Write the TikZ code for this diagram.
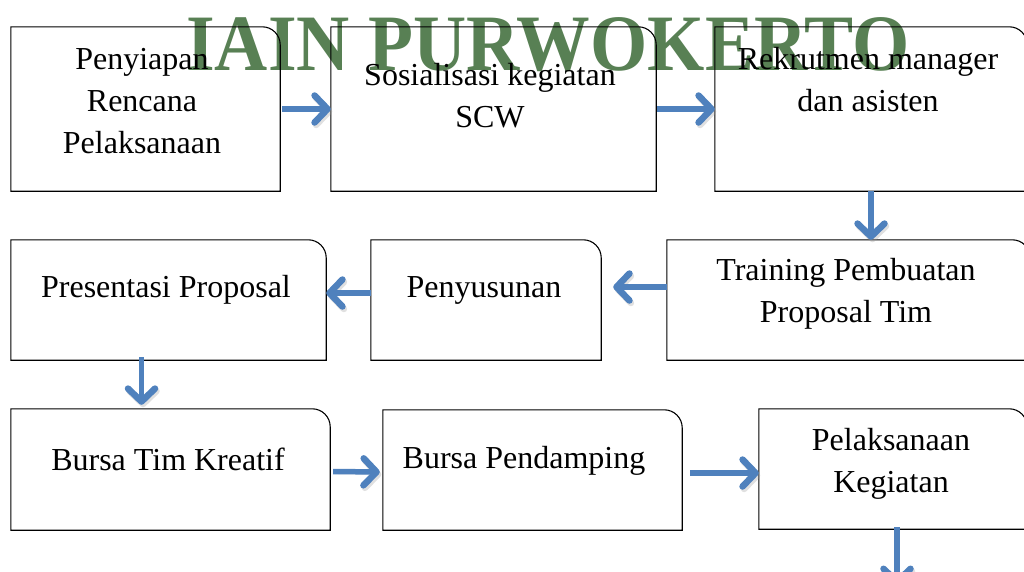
\documentclass[tikz,border=0pt]{standalone}
\usepackage{fontspec}
\setmainfont{Liberation Serif}
\usepackage{graphicx}
\usetikzlibrary{calc,arrows.meta}

\definecolor{flowblue}{RGB}{79,129,189}
\definecolor{markgreen}{RGB}{88,128,84}

\tikzset{
    flowarrow/.style={draw=flowblue, line width=5.5pt,
        -{Straight Barb[length=13pt,width=27pt,line width=6.5pt,round]},
        preaction={draw=black!40, opacity=0.3,
            transform canvas={shift={(1.5pt,-2.5pt)}}}},
    boxarea/.style={rectangle, inner sep=0pt, draw=none},
    boxtext/.style={align=center, inner sep=0pt,
        font=\fontsize{32}{42}\selectfont},
}

\begin{document}
\begin{tikzpicture}[x=1pt,y=-1pt]

% Page size, like the scan.
\useasboundingbox (0,0) rectangle (1024,571);

% Watermark across the top row.
\node[anchor=base, text=markgreen,
      font=\fontsize{80}{80}\selectfont\bfseries]
    (mark) at (548,70) {\scalebox{0.92}[1]{IAIN PURWOKERTO}};

% Loop for each step box.
\foreach \n/\xa/\ya/\xb/\yb/\tx/\ty/\txt in {
    b1/11/27/280/191/142/101/{Penyiapan\\Rencana\\Pelaksanaan},
    b2/331/27/656/191/490/96/{Sosialisasi kegiatan\\SCW},
    b3/715/27/1027/191/868/80/{Rekrutmen manager\\dan asisten},
    b4/667/240/1030/360/846/294/{Training Pembuatan\\Proposal Tim},
    b5/371/240/601/360/484/290/{Penyusunan},
    b6/11/240/326/360/166/290/{Presentasi Proposal},
    b7/11/409/330/530/168/459/{Bursa Tim Kreatif},
    b8/383/410/682/530/524/461/{Bursa Pendamping},
    b9/759/409/1027/529/891/464/{Pelaksanaan\\Kegiatan}} {

    % Empty node that carries the box name.
    \node[boxarea, minimum width={(\xb-\xa)*1pt},
          minimum height={(\yb-\ya)*1pt}]
        (\n) at ({(\xa+\xb)/2},{(\ya+\yb)/2}) {};

    % Outline, only the top right corner is round.
    \draw[line width=1.1pt]
        (\n.south west) -- (\n.north west)
        -- ([xshift=-18pt]\n.north east) arc(-90:0:18)
        -- (\n.south east) -- cycle;

    % Label of the step.
    \node[boxtext] (\n text) at (\tx,\ty) {\txt};
}

% Top row, left to right.
\draw[flowarrow] ([xshift=2pt]b1.east) -- (b2.west);
\draw[flowarrow] ([xshift=1pt]b2.east) -- (b3.west);

% Down to the second row.
\draw[flowarrow] (b3.south) -- (b3.south |- b4.north);

% Second row, right to left.
\draw[flowarrow] ([yshift=13pt]b4.west) -- ([yshift=13pt,xshift=12pt]b5.east);
\draw[flowarrow] ([yshift=7pt]b5.west) -- ([yshift=7pt]b6.east);

% Down to the third row.
\draw[flowarrow]
    ($(b6.south)+(-27,-3)$) -- ($(b6.south |- b7.north)+(-27,-4)$);

% Third row, left to right.
\draw[flowarrow] ([xshift=3pt,yshift=-2pt]b7.east) -- ([xshift=-3pt,yshift=-2pt]b8.west);
\draw[flowarrow] ([xshift=8pt,yshift=-3pt]b8.east) -- ([yshift=-4pt]b9.west);

% Last arrow leaves the page.
\coordinate (next) at (897,585);
\draw[flowarrow] ($(b9.south -| next)+(0,-2)$) -- (next);

\end{tikzpicture}
\end{document}
